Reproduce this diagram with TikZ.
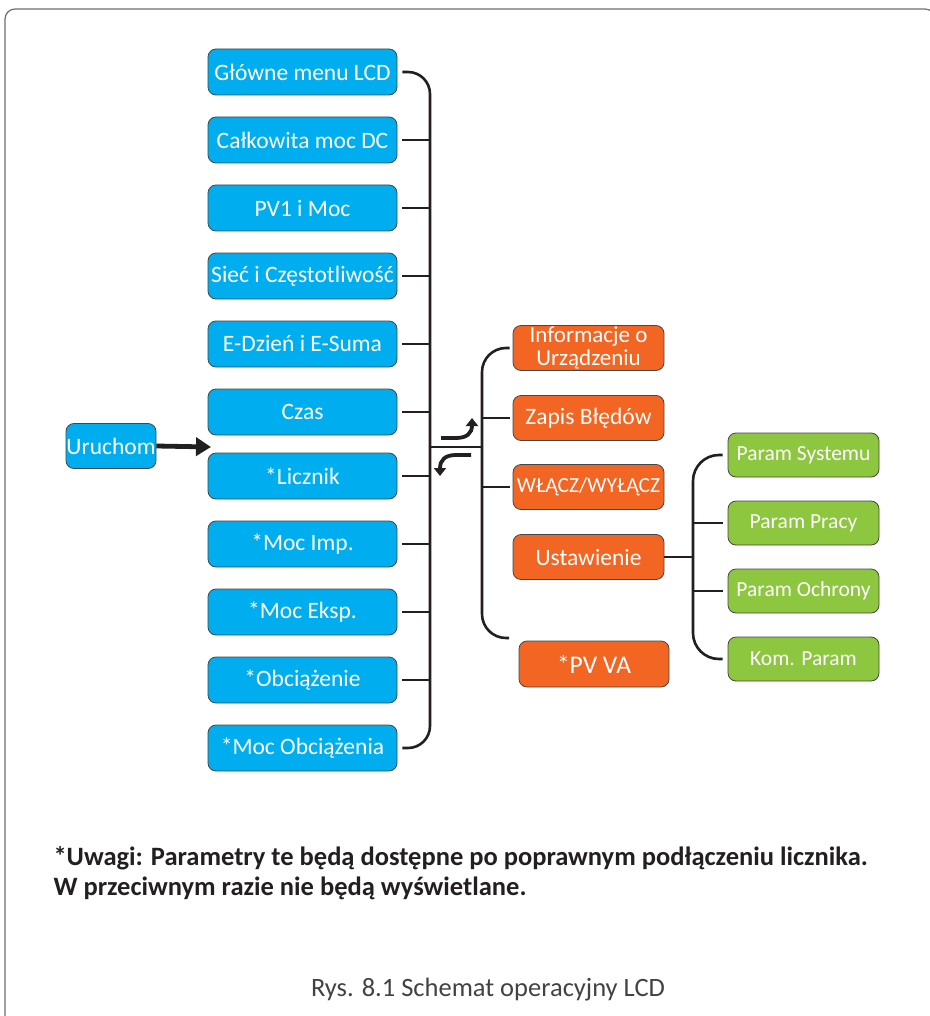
\documentclass[tikz,border=0pt]{standalone}
\usepackage{fontspec}
\setmainfont{Carlito}
\usetikzlibrary{arrows.meta,positioning}
\definecolor{menublue}{RGB}{0,174,239}
\definecolor{menuorange}{RGB}{242,101,34}
\definecolor{menugreen}{RGB}{141,198,63}
\definecolor{linegray}{RGB}{35,31,32}
\definecolor{boxedge}{RGB}{70,70,70}
\definecolor{framegray}{RGB}{110,110,110}
\begin{document}
\begin{tikzpicture}[x=1pt,y=-1pt,
  box/.style={draw=boxedge,line width=0.8pt,rounded corners=8pt,text=white,inner sep=0pt,align=center,font=\fontsize{23.5}{21}\selectfont},
  bluebox/.style={box,fill=menublue,minimum width=189pt,minimum height=46pt},
  orangebox/.style={box,fill=menuorange,minimum width=151pt,minimum height=45pt},
  greenbox/.style={box,fill=menugreen,minimum width=151pt,minimum height=44pt,font=\fontsize{21.5}{22}\selectfont},
  link/.style={draw=linegray,line width=2.6pt},
  turn/.style={draw=linegray,line width=3.8pt,-{Triangle[length=8pt,width=12pt]}}]
\useasboundingbox (0,0) rectangle (929,1016);
\draw[framegray,line width=1.2pt,rounded corners=10pt] (5,1060) -- (5,9) -- (935,9) -- (935,1060);
% main menu column
\foreach \n/\y/\txt in {1/72/Główne menu LCD,2/140/Całkowita moc DC,3/208/PV1 i Moc,4/276/Sieć i Częstotliwość,5/344/E-Dzień i E-Suma,6/412/Czas,7/476/*Licznik,8/544/*Moc Imp.,9/612/*Moc Eksp.,10/680/*Obciążenie,11/748/*Moc Obciążenia}
  \node[bluebox] (m\n) at (302.5,\y) {\txt};
\coordinate (spine) at (430,0);
\draw[link,rounded corners=22pt] ([xshift=5pt]m1.east) -- (m1.east -| spine) -- (m11.east -| spine) -- ([xshift=5pt]m11.east);
\foreach \n in {2,...,10}
  \draw[link] ([xshift=5pt]m\n.east) -- (m\n.east -| spine);
% start
\node[box,fill=menublue,minimum width=90pt,minimum height=45pt] (u) at (111,446) {Uruchom};
\coordinate (uend) at (211,447);
\draw[link,line width=4.8pt,-{Triangle[length=15pt,width=18pt]}] (u.east) -- (uend);
% second level
\node[orangebox,font=\fontsize{23}{22.5}\selectfont] (o1) at (588.5,348) {Informacje o\\Urządzeniu};
\node[orangebox] (o2) at (588.5,418) {Zapis Błędów};
\node[orangebox,font=\fontsize{21.5}{22}\selectfont] (o3) at (588.5,487) {WŁĄCZ/WYŁĄCZ};
\node[orangebox] (o4) at (588.5,557) {Ustawienie};
\node[orangebox,minimum width=150pt,minimum height=46pt,font=\fontsize{25.5}{26}\selectfont] (o5) at (594,664) {*PV VA};
\coordinate (jn) at (430,447);
\coordinate (oj) at (482,447);
\coordinate (obot) at (509,638);
\draw[link] (jn) -- (oj);
\draw[link,rounded corners=24pt] ([xshift=-3pt]o1.west) -- (o1.west -| oj) -- (obot -| oj) -- (obot);
\foreach \n in {2,3}
  \draw[link] (o\n.west -| oj) -- ([xshift=-3pt]o\n.west);
\draw[turn] (441,438) -- (456,438) .. controls (467,438) and (472,433) .. (472,418);
\draw[turn] (471,455) -- (456,455) .. controls (445,455) and (440,460) .. (440,476);
% settings
\foreach \n/\y/\txt in {1/455/Param Systemu,2/523/Param Pracy,3/591/Param Ochrony,4/659/Kom. Param}
  \node[greenbox] (p\n) at (803.5,\y) {\txt};
\coordinate (gspine) at (693,0);
\draw[link,rounded corners=26pt] ([xshift=-5pt]p1.west) -- (p1.west -| gspine) -- (p4.west -| gspine) -- ([xshift=-5pt]p4.west);
\foreach \n in {2,3}
  \draw[link] (p\n.west -| gspine) -- ([xshift=-5pt]p\n.west);
\draw[link] (o4.east) -- (o4.east -| gspine);
% notes
\node[anchor=west,align=left,font=\bfseries\fontsize{26.5}{30}\selectfont,text=linegray] (note) at (50,873) {*Uwagi: Parametry te będą dostępne po poprawnym podłączeniu licznika.\\W przeciwnym razie nie będą wyświetlane.};
\node[font=\fontsize{26.5}{28}\selectfont,text=linegray!85] (cap) at (488,990) {Rys. 8.1 Schemat operacyjny LCD};
\end{tikzpicture}
\end{document}
